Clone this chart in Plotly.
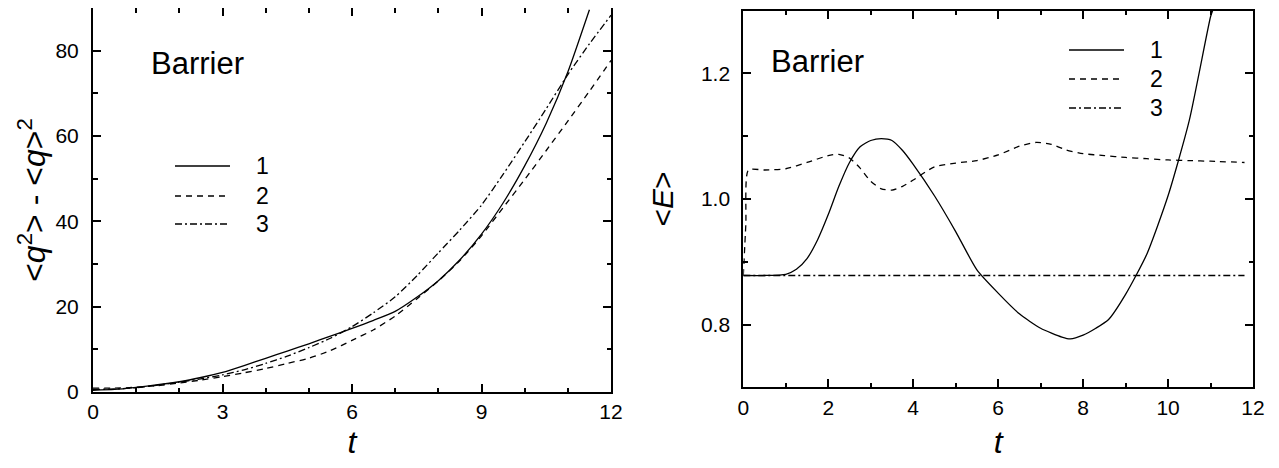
import plotly.graph_objects as go

# Page body has an 8px default margin, so the figure is drawn 8px in from the top-left corner.
OFF = 8
W, H = 1279 - 2 * OFF, 468 - 2 * OFF

# ---------------- Left panel data: <q^2> - <q>^2 vs t ----------------
t_left1 = [0, 0.5, 1, 1.5, 2, 2.5, 3, 3.5, 4, 4.5, 5, 5.5, 6, 6.5, 7, 7.5, 8, 8.5, 9, 9.5, 10, 10.5, 11, 11.5]
var1 = [0.4, 0.6, 1.1, 1.7, 2.4, 3.4, 4.6, 6.2, 7.9, 9.6, 11.3, 13.1, 14.9, 16.8, 18.9, 22.2, 26.1, 31.0, 37.0, 44.3, 53.0, 63.0, 75.0, 89.6]

t_left2 = [0, 0.5, 1, 1.5, 2, 2.5, 3, 3.5, 4, 4.5, 5, 5.5, 6, 6.5, 7, 7.5, 8, 8.5, 9, 9.5, 10, 10.5, 11, 11.5, 12]
var2 = [0.9, 0.9, 1.1, 1.5, 2.1, 2.8, 3.6, 4.5, 5.5, 6.7, 7.9, 9.7, 12.1, 14.6, 17.8, 21.8, 26.0, 30.8, 36.6, 43.2, 49.8, 56.6, 63.5, 70.5, 77.7]

t_left3 = [0, 0.5, 1, 1.5, 2, 2.5, 3, 3.5, 4, 4.5, 5, 5.5, 6, 6.5, 7, 7.5, 8, 8.5, 9, 9.5, 10, 10.5, 11, 11.5, 12]
var3 = [0.6, 0.7, 1.0, 1.6, 2.3, 3.1, 4.0, 5.2, 6.7, 8.4, 10.4, 12.6, 15.3, 18.6, 22.3, 27.2, 32.6, 38.0, 43.8, 51.0, 58.6, 66.4, 74.4, 81.6, 88.3]

# ---------------- Right panel data: <E> vs t ----------------
t_right1 = [0, 0.5, 1.0, 1.25, 1.5, 1.75, 2.0, 2.25, 2.5, 2.75, 3.0, 3.25, 3.5, 3.75, 4.0, 4.5, 5.0, 5.5,
            6.0, 6.5, 7.0, 7.5, 7.7, 8.0, 8.3, 8.6, 9.0, 9.5, 10.0, 10.5, 11.0, 11.05]
E1 = [0.878, 0.878, 0.880, 0.888, 0.905, 0.935, 0.975, 1.020, 1.058, 1.083, 1.093, 1.096, 1.093, 1.077, 1.055, 1.005, 0.948, 0.887,
      0.850, 0.817, 0.794, 0.780, 0.777, 0.783, 0.794, 0.808, 0.848, 0.912, 1.005, 1.125, 1.290, 1.300]

t_right2 = [0, 0.06, 0.12, 0.5, 1.0, 1.5, 2.0, 2.25, 2.5, 2.75, 3.0, 3.25, 3.5, 3.75, 4.0, 4.5, 5.0, 5.5,
            6.0, 6.5, 6.9, 7.25, 7.6, 8.0, 8.5, 9.0, 9.5, 10.0, 10.5, 11.0, 11.8]
E2 = [0.878, 0.960, 1.046, 1.046, 1.048, 1.058, 1.069, 1.071, 1.065, 1.049, 1.028, 1.016, 1.014, 1.020, 1.030, 1.051, 1.057, 1.061,
      1.070, 1.084, 1.090, 1.087, 1.078, 1.072, 1.069, 1.066, 1.064, 1.062, 1.061, 1.060, 1.058]

t_right3 = [0, 11.8]
E3 = [0.878, 0.878]

legend_labels = ["1", "2", "3"]

FONT = "Liberation Sans, Arial, sans-serif"
DASH = "6px,5px"
DASHDOT = "7px,3px,2px,3px"
LW = 1.3


def px(x):
    """screen x (reference pixels) -> paper fraction"""
    return (x - OFF) / W


def py(y):
    """screen y (reference pixels) -> paper fraction"""
    return 1 - (y - OFF) / H


fig = go.Figure()

line_styles = ["solid", DASH, DASHDOT]
for tx, vy, ds in zip([t_left1, t_left2, t_left3], [var1, var2, var3], line_styles):
    fig.add_trace(go.Scatter(x=tx, y=vy, mode="lines",
                             line=dict(color="black", width=LW, dash=ds, shape="spline", smoothing=0.6),
                             xaxis="x", yaxis="y", showlegend=False, hoverinfo="skip"))
for tx, vy, ds in zip([t_right1, t_right2, t_right3], [E1, E2, E3], line_styles):
    fig.add_trace(go.Scatter(x=tx, y=vy, mode="lines",
                             line=dict(color="black", width=LW, dash=ds, shape="spline", smoothing=0.6),
                             xaxis="x2", yaxis="y2", showlegend=False, hoverinfo="skip"))

base = dict(
    showline=True, linecolor="black", linewidth=2, mirror="allticks",
    ticks="inside", ticklen=8, tickwidth=1.5, tickcolor="black",
    showgrid=False, zeroline=False, automargin=False,
    tickfont=dict(family=FONT, size=21, color="black"),
)


def minor(d):
    return dict(ticks="inside", ticklen=4.5, tickwidth=1.5, dtick=d, tickcolor="black")


fig.update_layout(
    width=W, height=H,
    margin=dict(l=0, r=0, t=0, b=0, autoexpand=False),
    paper_bgcolor="white", plot_bgcolor="white",
    font=dict(family=FONT, color="black"),
    xaxis=dict(domain=[px(93), px(611)], range=[0, 12], dtick=3, tick0=0, minor=minor(1),
               anchor="y", ticklabelstandoff=0,
               title=dict(text="<i>t</i>", standoff=17, font=dict(family=FONT, size=32, color="black")), **base),
    yaxis=dict(domain=[py(392), py(8)], range=[0, 90], dtick=20, tick0=0, minor=minor(10),
               anchor="x", ticklabelstandoff=8,
               title=dict(text="&lt;<i>q</i><sup>2</sup>&gt; - &lt;<i>q</i>&gt;<sup>2</sup>", standoff=0,
                          font=dict(family=FONT, size=32, color="black")), **base),
    xaxis2=dict(domain=[px(743.3), px(1253)], range=[0, 12], dtick=2, tick0=0, minor=minor(1),
                anchor="y2", ticklabelstandoff=0,
                title=dict(text="<i>t</i>", standoff=17, font=dict(family=FONT, size=32, color="black")), **base),
    yaxis2=dict(domain=[py(387.3), py(10.5)], range=[0.7, 1.3], dtick=0.2, tick0=0, tickformat=".1f", minor=minor(0.1),
                anchor="x2", ticklabelstandoff=7,
                title=dict(text="&lt;<i>E</i>&gt;", standoff=18, font=dict(family=FONT, size=30, color="black")), **base),
)

# "Barrier" labels
fig.add_annotation(x=px(149), y=py(63), xref="paper", yref="paper", text="Barrier", showarrow=False,
                   xanchor="left", yanchor="middle", font=dict(family=FONT, size=31, color="black"))
fig.add_annotation(x=px(769), y=py(62), xref="paper", yref="paper", text="Barrier", showarrow=False,
                   xanchor="left", yanchor="middle", font=dict(family=FONT, size=31, color="black"))

# Hand-drawn legends
legend_sets = [
    dict(x0=175, x1=230, ys=[166, 196, 224], lx=262),
    dict(x0=1069, x1=1124, ys=[50, 79, 108], lx=1156),
]
for lg in legend_sets:
    for lab, yy, ds in zip(legend_labels, lg["ys"], line_styles):
        fig.add_shape(type="line", xref="paper", yref="paper", x0=px(lg["x0"]), x1=px(lg["x1"]), y0=py(yy), y1=py(yy),
                      line=dict(color="black", width=LW, dash=ds))
        fig.add_annotation(x=px(lg["lx"]), y=py(yy), xref="paper", yref="paper", text=lab, showarrow=False,
                           xanchor="center", yanchor="middle", font=dict(family=FONT, size=23, color="black"))

fig.write_html("out.html")
